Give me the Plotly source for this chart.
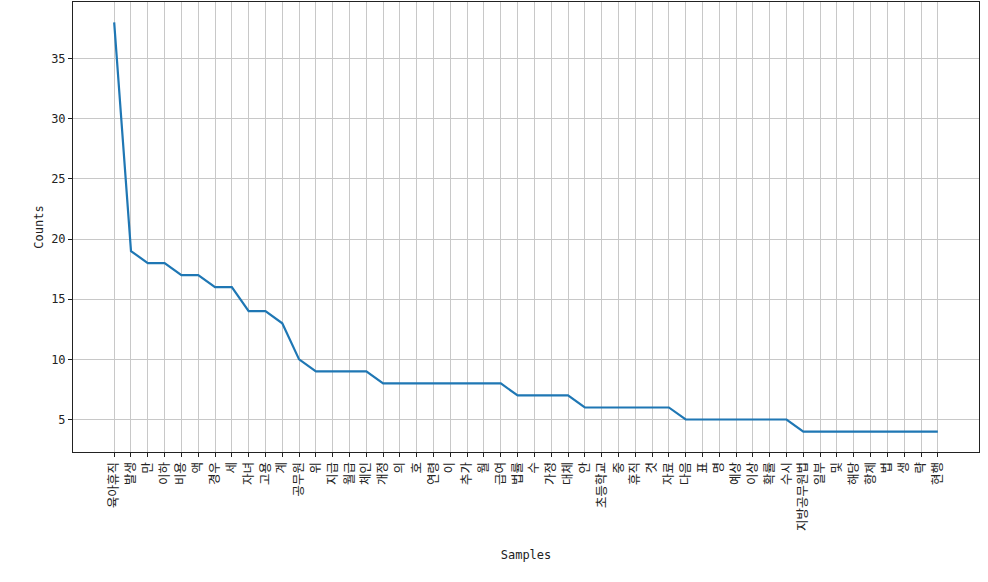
import plotly.graph_objects as go

samples = ["육아휴직", "발생", "만", "이하", "비용", "액", "경우", "세", "자녀", "고용",
           "계", "공무원", "위", "지급", "월급", "체인", "개정", "의", "호", "연령",
           "이", "추가", "월", "급여", "법률", "수", "가정", "대체", "안", "초등학교",
           "중", "휴직", "것", "자료", "다음", "표", "명", "예상", "이상", "확률",
           "수시", "지방공무원법", "일부", "및", "해당", "항제", "법", "생", "략", "현행"]
counts = [38, 19, 18, 18, 17, 17, 16, 16, 14, 14,
          13, 10, 9, 9, 9, 9, 8, 8, 8, 8,
          8, 8, 8, 8, 7, 7, 7, 7, 6, 6,
          6, 6, 6, 6, 5, 5, 5, 5, 5, 5,
          5, 4, 4, 4, 4, 4, 4, 4, 4, 4]
y_ticks = [5, 10, 15, 20, 25, 30, 35]

idx = list(range(len(samples)))
fig = go.Figure(go.Scatter(x=idx, y=counts, mode="lines",
                           line=dict(color="#1f77b4", width=2.2)))

font = "DejaVu Sans Mono, Noto Sans CJK KR, monospace"
n = len(samples)
ymin, ymax = min(counts), max(counts)
pad = (ymax - ymin) * 0.05
fig.update_layout(
    width=988, height=582,
    margin=dict(l=73, r=9, t=2, b=130),
    paper_bgcolor="white", plot_bgcolor="white",
    font=dict(family=font, size=12, color="#222"),
    showlegend=False,
    xaxis=dict(
        automargin=False,
        range=[-(n - 1) * 0.05, (n - 1) * 1.05],
        tickmode="array", tickvals=idx, ticktext=samples, tickangle=-90,
        tickfont=dict(size=12.5),
        showgrid=True, gridcolor="#c8c8c8", gridwidth=1,
        ticks="outside", ticklen=4, tickcolor="#222",
        showline=True, linecolor="#222", linewidth=1, mirror=True,
        zeroline=False,
        title=dict(text="Samples", font=dict(size=12), standoff=20),
    ),
    yaxis=dict(
        automargin=False,
        range=[ymin - pad, ymax + pad],
        tickmode="array", tickvals=y_ticks,
        showgrid=True, gridcolor="#c8c8c8", gridwidth=1,
        ticks="outside", ticklen=4, tickcolor="#222",
        showline=True, linecolor="#222", linewidth=1, mirror=True,
        zeroline=False,
        title=dict(text="Counts", font=dict(size=12), standoff=4),
    ),
)
fig.write_html("out.html", config={"displayModeBar": False},
               post_script="document.body.style.margin='0';document.body.style.padding='0';")
